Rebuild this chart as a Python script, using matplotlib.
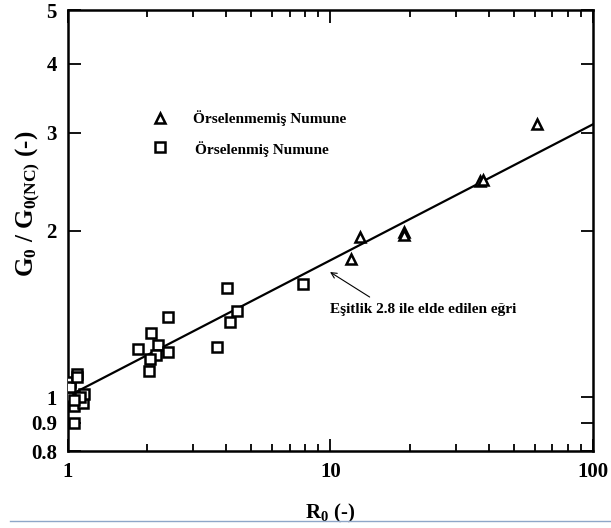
import matplotlib
matplotlib.use("Agg")
import matplotlib.pyplot as plt
from matplotlib.ticker import FixedLocator, NullFormatter, NullLocator

plt.rcParams["font.family"] = ["Liberation Serif", "DejaVu Serif"]
plt.rcParams["font.weight"] = "bold"
plt.rcParams["axes.labelweight"] = "bold"
plt.rcParams["mathtext.fontset"] = "custom"
plt.rcParams["mathtext.rm"] = "Liberation Serif:bold"
plt.rcParams["mathtext.bf"] = "Liberation Serif:bold"
plt.rcParams["mathtext.it"] = "Liberation Serif:bold"

# remoulded (Örselenmiş) samples
sq_r = [1.00, 1.02, 1.02, 1.08, 1.085, 1.05, 1.14, 1.15, 1.11, 1.05, 1.05,
        1.85, 2.07, 2.40, 2.20, 2.16, 2.05, 2.41, 2.03, 3.68, 4.14, 4.39, 4.03, 7.86]
sq_g = [1.00, 1.067, 1.042, 1.10, 1.089, 0.964, 0.975, 1.012, 1.00, 0.90, 0.99,
        1.222, 1.305, 1.398, 1.243, 1.192, 1.175, 1.208, 1.117, 1.231, 1.366, 1.433, 1.575, 1.60]
# undisturbed (Örselenmemiş) samples
tri_r = [12.0, 13.0, 19.0, 19.0, 37.1, 38.2, 61.0]
tri_g = [1.775, 1.95, 1.99, 1.96, 2.46, 2.47, 3.11]
# curve from Eq. 2.8
fit_r = [1.05, 100]
fit_g = [1.017, 3.11]

yticks = [0.8, 0.9, 1, 2, 3, 4, 5]
ylabels = ["0.8", "0.9", "1", "2", "3", "4", "5"]
xticks = [1, 10, 100]
xminor = [k * 10 ** d for d in range(2) for k in range(2, 10)]

fig = plt.figure(figsize=(6.11, 5.28), dpi=100, facecolor="white")
ax = fig.add_axes([0.1113, 0.1458, 0.8592, 0.8352])
ax.set_xscale("log")
ax.set_yscale("log")
ax.set_xlim(1, 100)
ax.set_ylim(0.8, 5)

ax.plot(fit_r, fit_g, color="black", lw=1.6, zorder=2)
mk = dict(ls="", mfc="white", mec="black", mew=1.8, ms=7, zorder=3)
ax.plot(sq_r, sq_g, marker="s", **mk)
ax.plot(tri_r, tri_g, marker="^", **mk)

ax.set_xticks(xticks)
ax.set_xticklabels(["1", "10", "100"])
ax.xaxis.set_minor_locator(FixedLocator(xminor))
ax.xaxis.set_minor_formatter(NullFormatter())
ax.set_yticks(yticks)
ax.set_yticklabels(ylabels)
ax.yaxis.set_minor_locator(NullLocator())
ax.tick_params(which="both", direction="in", top=True, right=True,
               labelsize=15, width=1.3, pad=8)
ax.tick_params(which="major", length=9)
ax.tick_params(which="minor", length=5)
for s in ax.spines.values():
    s.set_linewidth(1.8)

ax.set_xlabel(r"R$_0$ (-)", fontsize=15, labelpad=14)
ax.set_ylabel(r"G$_0$ / G$_{0(\mathrm{NC})}$ (-)", fontsize=18)
ax.yaxis.set_label_coords(-0.05, 0.56)

# legend drawn by hand
ax.plot([2.24], [3.19], marker="^", **mk)
ax.plot([2.24], [2.83], marker="s", **mk)
ax.text(2.99, 3.19, "Örselenmemiş Numune", fontsize=11, va="center")
ax.text(3.05, 2.81, "Örselenmiş Numune", fontsize=11, va="center")

ax.text(22.5, 1.443, "Eşitlik 2.8 ile elde edilen eğri", fontsize=11,
        ha="center", va="center")
ax.annotate("", xy=(9.96, 1.683), xytext=(14.1, 1.517),
            arrowprops=dict(arrowstyle="->", lw=0.8, color="black",
                            shrinkA=0, shrinkB=0))

fig.add_artist(plt.Line2D([0.016, 1.0], [0.013, 0.013], color="#8fa7c8", lw=1.0))

fig.savefig("out.png", dpi=100, facecolor="white")
